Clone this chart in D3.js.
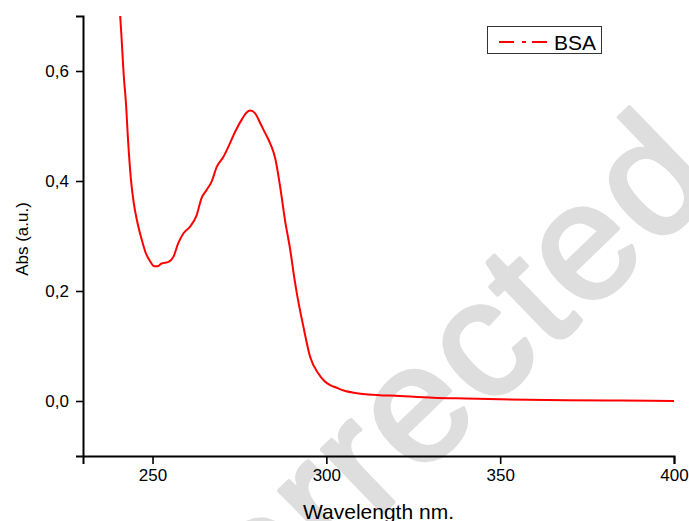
<!DOCTYPE html>
<meta charset="utf-8">
<script src="https://d3js.org/d3.v7.min.js"></script>
<style>
  body { margin: 0; background: #fff; }
  text { font-family: "Liberation Sans", Arial, sans-serif; }
</style>
<div id="chart"></div>
<script>

// absorbance spectrum
var wavelength = [240.5, 241.0, 241.8, 242.3, 243.0, 243.8, 244.6, 245.5, 246.9, 248.0,
  249.3, 250.5, 251.5, 252.6, 254.6, 256.0, 257.4, 258.9, 260.8, 262.7,
  264.1, 265.6, 267.0, 268.5, 270.4, 271.8, 273.8, 275.7, 277.0, 278.1,
  279.5, 281.0, 282.4, 283.8, 285.3, 286.7, 288.1, 289.6, 290.8, 291.5,
  293.4, 295.3, 297.7, 299.5, 301.1, 303.0, 305.0, 308.8, 312.0, 321.2,
  330.7, 340, 350, 369, 385, 400];
var absorbance = [0.72, 0.67, 0.585, 0.547, 0.47, 0.402, 0.36, 0.329, 0.293, 0.270,
  0.254, 0.245, 0.245, 0.250, 0.253, 0.262, 0.287, 0.305, 0.317, 0.338,
  0.369, 0.384, 0.399, 0.426, 0.444, 0.462, 0.490, 0.512, 0.524, 0.528,
  0.523, 0.505, 0.487, 0.469, 0.441, 0.390, 0.329, 0.275, 0.223, 0.196,
  0.135, 0.081, 0.050, 0.036, 0.029, 0.024, 0.019, 0.014, 0.012, 0.009,
  0.006, 0.0045, 0.0031, 0.0013, 0.0007, 0.0];

var xMajor = [250, 300, 350, 400];
var xMinor = [275, 325, 375];
var yMajor = [0, 0.2, 0.4, 0.6];
var yMinor = [-0.1, 0.1, 0.3, 0.5, 0.7];
var seriesName = "BSA";

var margin = {top: 16, right: 15, bottom: 65, left: 83},
    width = 689 - margin.left - margin.right,
    height = 521 - margin.top - margin.bottom;

var svg = d3.select("#chart")
  .append("svg")
    .attr("width", 689)
    .attr("height", 521);

// watermark
svg.append("text")
  .attr("transform", "translate(462,436) rotate(-44)")
  .attr("text-anchor", "middle")
  .style("font-size", "166px")
  .style("letter-spacing", "4px")
  .style("fill", "#dedede")
  .style("stroke", "#dedede")
  .style("stroke-width", 4)
  .style("stroke-linejoin", "round")
  .text("corrected");

var g = svg.append("g")
  .attr("transform", "translate(" + margin.left + "," + margin.top + ")");

var x = d3.scaleLinear().domain([230, 400]).range([0, width]);
var y = d3.scaleLinear().domain([-0.1, 0.7]).range([height, 0]);

var fmt = function(d) { return d3.format(".1f")(d).replace(".", ","); };

g.append("clipPath").attr("id", "clip")
  .append("rect").attr("width", width).attr("height", height);

// line
var data = wavelength.map(function(w, i) { return [w, absorbance[i]]; });
g.append("path")
  .datum(data)
  .attr("clip-path", "url(#clip)")
  .attr("fill", "none")
  .attr("stroke", "#ff0000")
  .attr("stroke-width", 2)
  .attr("d", d3.line()
    .x(function(d) { return x(d[0]); })
    .y(function(d) { return y(d[1]); })
    .curve(d3.curveMonotoneX));

// X axis
var xAxis = g.append("g").attr("transform", "translate(0," + height + ")");
xAxis.call(d3.axisBottom(x).tickValues(xMinor).tickSize(4).tickFormat(""));
xAxis.call(d3.axisBottom(x).tickValues(xMajor).tickSize(8).tickPadding(5).tickFormat(d3.format("d")));

// Y axis
var yAxis = g.append("g");
yAxis.call(d3.axisLeft(y).tickValues(yMinor).tickSize(4).tickFormat(""));
yAxis.call(d3.axisLeft(y).tickValues(yMajor).tickSize(7).tickPadding(7).tickFormat(fmt));

g.selectAll(".domain").attr("stroke", "#000").attr("stroke-width", 2);
g.selectAll(".tick line").attr("stroke", "#000").attr("stroke-width", 1.6);
g.selectAll(".tick text").style("font-size", "17px").style("font-family", "'Liberation Sans', Arial, sans-serif").attr("fill", "#000");

// axis titles
svg.append("text")
  .attr("x", margin.left + width / 2).attr("y", 519)
  .attr("text-anchor", "middle")
  .style("font-size", "21px")
  .text("Wavelength nm.");

svg.append("text")
  .attr("transform", "translate(28,239) rotate(-90)")
  .attr("text-anchor", "middle")
  .style("font-size", "17px")
  .text("Abs (a.u.)");

// legend
svg.append("rect").attr("x", 487.5).attr("y", 26.5).attr("width", 114).attr("height", 27)
  .attr("fill", "#fff").attr("stroke", "#333").attr("stroke-width", 1);
svg.append("line").attr("x1", 499).attr("x2", 548).attr("y1", 42).attr("y2", 42)
  .attr("stroke", "#ff0000").attr("stroke-width", 2).attr("stroke-dasharray", "15,8,4,6");
svg.append("text").attr("x", 554).attr("y", 50).text(seriesName).style("font-size", "21px");

</script>
